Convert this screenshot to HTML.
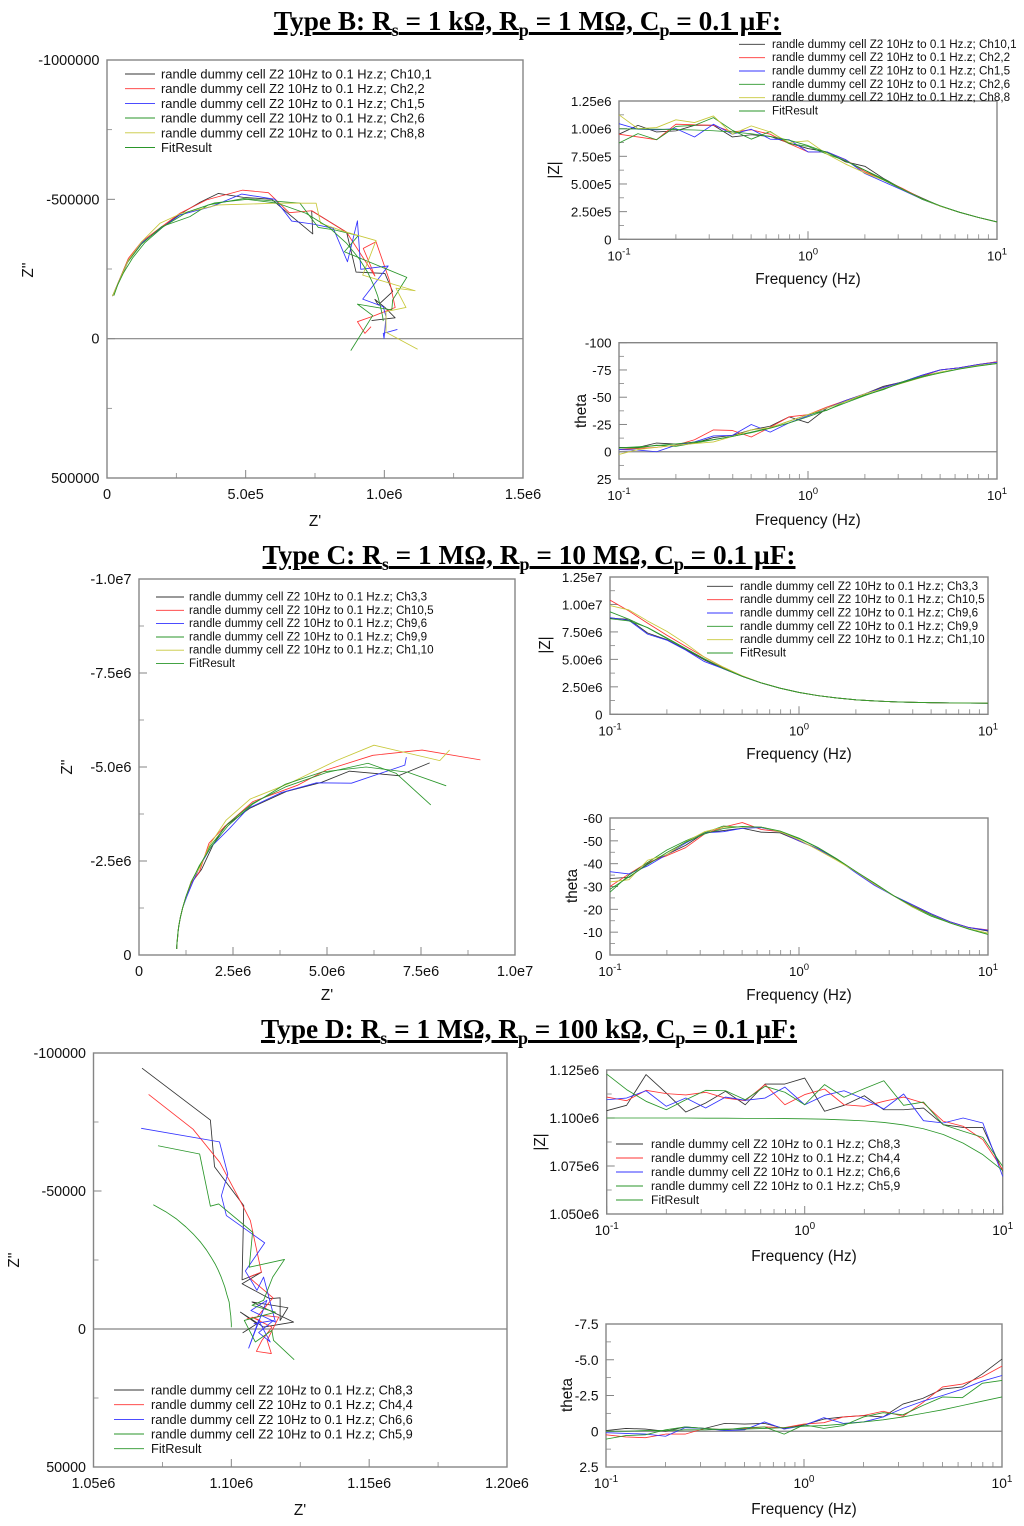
<!DOCTYPE html>
<html lang="en">
<head>
<meta charset="utf-8">
<title>Impedance spectra for Type B, C and D dummy cells</title>
<style>
html,body{margin:0;padding:0;background:#fff;}
body{width:1024px;height:1526px;position:relative;overflow:hidden;font-family:"Liberation Sans",sans-serif;}
.title{position:absolute;left:0;width:1024px;text-align:center;font-family:"Liberation Serif",serif;font-weight:bold;font-size:27.3px;line-height:32px;color:#000;text-decoration:underline;text-decoration-thickness:2.5px;white-space:nowrap;}
.title sub{font-size:18px;line-height:0;vertical-align:-6px;}
svg{position:absolute;left:0;top:0;}
svg text{font-family:"Liberation Sans",sans-serif;fill:#111;}
.ax{font-size:15.3px;text-anchor:middle;}
.lg{font-size:12.9px;dominant-baseline:central;}
.lm{font-size:11.65px;dominant-baseline:central;}
.ld{font-size:12.8px;dominant-baseline:central;}
.lr{font-size:12.2px;dominant-baseline:central;}
.leg line{stroke-width:.9;}
</style>
</head>
<body>
<div class="title" style="top:5px;text-indent:31px">Type B: R<sub>s</sub> = 1 kΩ, R<sub>p</sub> = 1 MΩ, C<sub>p</sub> = 0.1 µF:</div>
<div class="title" style="top:539px;text-indent:34px">Type C: R<sub>s</sub> = 1 MΩ, R<sub>p</sub> = 10 MΩ, C<sub>p</sub> = 0.1 µF:</div>
<div class="title" style="top:1013px;text-indent:34px">Type D: R<sub>s</sub> = 1 MΩ, R<sub>p</sub> = 100 kΩ, C<sub>p</sub> = 0.1 µF:</div>

<svg id="figure" width="1024" height="1526" viewBox="0 0 1024 1526">
  <g id="plots"></g>

  <g>
    <text class="ax" x="315" y="526">Z'</text>
    <text class="ax" transform="translate(33,270) rotate(-90)">Z''</text>
    <text class="ax" transform="translate(559,170) rotate(-90)">|Z|</text>
    <text class="ax" x="808" y="284">Frequency (Hz)</text>
    <text class="ax" transform="translate(586,411) rotate(-90)">theta</text>
    <text class="ax" x="808" y="525">Frequency (Hz)</text>

    <text class="ax" x="327" y="1000">Z'</text>
    <text class="ax" transform="translate(72,767) rotate(-90)">Z''</text>
    <text class="ax" transform="translate(550,645) rotate(-90)">|Z|</text>
    <text class="ax" x="799" y="759">Frequency (Hz)</text>
    <text class="ax" transform="translate(577,886) rotate(-90)">theta</text>
    <text class="ax" x="799" y="1000">Frequency (Hz)</text>

    <text class="ax" x="300" y="1515">Z'</text>
    <text class="ax" transform="translate(19,1260) rotate(-90)">Z''</text>
    <text class="ax" transform="translate(545,1142) rotate(-90)">|Z|</text>
    <text class="ax" x="804" y="1261">Frequency (Hz)</text>
    <text class="ax" transform="translate(572,1395) rotate(-90)">theta</text>
    <text class="ax" x="804" y="1514">Frequency (Hz)</text>
  </g>

  <g class="leg">
    <g><line x1="125" x2="155" y1="74" y2="74" stroke="#333"/><text class="lg" x="161" y="74">randle dummy cell Z2 10Hz to 0.1 Hz.z; Ch10,1</text></g>
    <g><line x1="125" x2="155" y1="88.7" y2="88.7" stroke="#f33"/><text class="lg" x="161" y="88.7">randle dummy cell Z2 10Hz to 0.1 Hz.z; Ch2,2</text></g>
    <g><line x1="125" x2="155" y1="103.4" y2="103.4" stroke="#33f"/><text class="lg" x="161" y="103.4">randle dummy cell Z2 10Hz to 0.1 Hz.z; Ch1,5</text></g>
    <g><line x1="125" x2="155" y1="118" y2="118" stroke="#2a962a"/><text class="lg" x="161" y="118">randle dummy cell Z2 10Hz to 0.1 Hz.z; Ch2,6</text></g>
    <g><line x1="125" x2="155" y1="132.8" y2="132.8" stroke="#c8c83a"/><text class="lg" x="161" y="132.8">randle dummy cell Z2 10Hz to 0.1 Hz.z; Ch8,8</text></g>
    <g><line x1="125" x2="155" y1="147.5" y2="147.5" stroke="#2a962a"/><text class="lg" x="161" y="147.5">FitResult</text></g>
  </g>
  <g class="leg">
    <g><line x1="739" x2="765" y1="44.3" y2="44.3" stroke="#333"/><text class="lm" x="772" y="44.3">randle dummy cell Z2 10Hz to 0.1 Hz.z; Ch10,1</text></g>
    <g><line x1="739" x2="765" y1="57.7" y2="57.7" stroke="#f33"/><text class="lm" x="772" y="57.7">randle dummy cell Z2 10Hz to 0.1 Hz.z; Ch2,2</text></g>
    <g><line x1="739" x2="765" y1="71" y2="71" stroke="#33f"/><text class="lm" x="772" y="71">randle dummy cell Z2 10Hz to 0.1 Hz.z; Ch1,5</text></g>
    <g><line x1="739" x2="765" y1="84.3" y2="84.3" stroke="#2a962a"/><text class="lm" x="772" y="84.3">randle dummy cell Z2 10Hz to 0.1 Hz.z; Ch2,6</text></g>
    <g><line x1="739" x2="765" y1="97.7" y2="97.7" stroke="#c8c83a"/><text class="lm" x="772" y="97.7">randle dummy cell Z2 10Hz to 0.1 Hz.z; Ch8,8</text></g>
    <g><line x1="739" x2="765" y1="111" y2="111" stroke="#2a962a"/><text class="lm" x="772" y="111">FitResult</text></g>
  </g>
  <g class="leg">
    <g><line x1="156" x2="184" y1="597" y2="597" stroke="#333"/><text class="lm" x="189" y="597">randle dummy cell Z2 10Hz to 0.1 Hz.z; Ch3,3</text></g>
    <g><line x1="156" x2="184" y1="610.3" y2="610.3" stroke="#f33"/><text class="lm" x="189" y="610.3">randle dummy cell Z2 10Hz to 0.1 Hz.z; Ch10,5</text></g>
    <g><line x1="156" x2="184" y1="623.6" y2="623.6" stroke="#33f"/><text class="lm" x="189" y="623.6">randle dummy cell Z2 10Hz to 0.1 Hz.z; Ch9,6</text></g>
    <g><line x1="156" x2="184" y1="637" y2="637" stroke="#2a962a"/><text class="lm" x="189" y="637">randle dummy cell Z2 10Hz to 0.1 Hz.z; Ch9,9</text></g>
    <g><line x1="156" x2="184" y1="650.2" y2="650.2" stroke="#c8c83a"/><text class="lm" x="189" y="650.2">randle dummy cell Z2 10Hz to 0.1 Hz.z; Ch1,10</text></g>
    <g><line x1="156" x2="184" y1="663.4" y2="663.4" stroke="#2a962a"/><text class="lm" x="189" y="663.4">FitResult</text></g>
  </g>
  <g class="leg">
    <g><line x1="707" x2="733" y1="586.3" y2="586.3" stroke="#333"/><text class="lm" x="740" y="586.3">randle dummy cell Z2 10Hz to 0.1 Hz.z; Ch3,3</text></g>
    <g><line x1="707" x2="733" y1="599.7" y2="599.7" stroke="#f33"/><text class="lm" x="740" y="599.7">randle dummy cell Z2 10Hz to 0.1 Hz.z; Ch10,5</text></g>
    <g><line x1="707" x2="733" y1="613" y2="613" stroke="#33f"/><text class="lm" x="740" y="613">randle dummy cell Z2 10Hz to 0.1 Hz.z; Ch9,6</text></g>
    <g><line x1="707" x2="733" y1="626.3" y2="626.3" stroke="#2a962a"/><text class="lm" x="740" y="626.3">randle dummy cell Z2 10Hz to 0.1 Hz.z; Ch9,9</text></g>
    <g><line x1="707" x2="733" y1="639.7" y2="639.7" stroke="#c8c83a"/><text class="lm" x="740" y="639.7">randle dummy cell Z2 10Hz to 0.1 Hz.z; Ch1,10</text></g>
    <g><line x1="707" x2="733" y1="653" y2="653" stroke="#2a962a"/><text class="lm" x="740" y="653">FitResult</text></g>
  </g>
  <g class="leg">
    <g><line x1="114" x2="144" y1="1390" y2="1390" stroke="#333"/><text class="ld" x="151" y="1390">randle dummy cell Z2 10Hz to 0.1 Hz.z; Ch8,3</text></g>
    <g><line x1="114" x2="144" y1="1404.7" y2="1404.7" stroke="#f33"/><text class="ld" x="151" y="1404.7">randle dummy cell Z2 10Hz to 0.1 Hz.z; Ch4,4</text></g>
    <g><line x1="114" x2="144" y1="1419.4" y2="1419.4" stroke="#33f"/><text class="ld" x="151" y="1419.4">randle dummy cell Z2 10Hz to 0.1 Hz.z; Ch6,6</text></g>
    <g><line x1="114" x2="144" y1="1434" y2="1434" stroke="#2a962a"/><text class="ld" x="151" y="1434">randle dummy cell Z2 10Hz to 0.1 Hz.z; Ch5,9</text></g>
    <g><line x1="114" x2="144" y1="1448.7" y2="1448.7" stroke="#2a962a"/><text class="ld" x="151" y="1448.7">FitResult</text></g>
  </g>
  <g class="leg">
    <g><line x1="616" x2="643" y1="1144" y2="1144" stroke="#333"/><text class="lr" x="651" y="1144">randle dummy cell Z2 10Hz to 0.1 Hz.z; Ch8,3</text></g>
    <g><line x1="616" x2="643" y1="1158" y2="1158" stroke="#f33"/><text class="lr" x="651" y="1158">randle dummy cell Z2 10Hz to 0.1 Hz.z; Ch4,4</text></g>
    <g><line x1="616" x2="643" y1="1172" y2="1172" stroke="#33f"/><text class="lr" x="651" y="1172">randle dummy cell Z2 10Hz to 0.1 Hz.z; Ch6,6</text></g>
    <g><line x1="616" x2="643" y1="1186" y2="1186" stroke="#2a962a"/><text class="lr" x="651" y="1186">randle dummy cell Z2 10Hz to 0.1 Hz.z; Ch5,9</text></g>
    <g><line x1="616" x2="643" y1="1200" y2="1200" stroke="#2a962a"/><text class="lr" x="651" y="1200">FitResult</text></g>
  </g>
</svg>

<script>
// Frequency grid (Hz) shared by all Bode plots
const frequencies = [0.1,0.126,0.158,0.2,0.251,0.316,0.398,0.501,0.631,0.794,1,1.26,1.58,2,2.51,3.16,3.98,5.01,6.31,7.94,10];
const logDecades = [0.1,1,10];
const logDecadeExponents = ["-1","0","1"];
const logMinors = [0.2,0.3,0.4,0.5,0.6,0.7,0.8,0.9,2,3,4,5,6,7,8,9];

// ---- Type B Nyquist (kOhm) ----
const bNyqRe1 = [20,77,125,189,263,333,401,492,594,650,742,738,864,898,1002,1030,978,966,1002,1039,954];
const bNyqIm1 = [-153,-280,-344,-392,-447,-488,-521,-507,-500,-452,-376,-459,-382,-239,-234,-169,-121,-141,-112,-75,-65];
const bNyqRe2 = [20,77,125,189,263,359,489,582,657,738,864,966,924,970,1018,1039,960,903,930,952];
const bNyqIm2 = [-153,-288,-348,-396,-450,-498,-533,-524,-452,-459,-382,-225,-324,-348,-210,-112,-81,-61,-19,-43];
const bNyqRe3 = [20,77,125,189,263,377,486,606,666,744,816,867,903,915,1014,922,996,1006,999,996,1047];
const bNyqIm3 = [-153,-282,-344,-392,-444,-474,-519,-500,-422,-411,-396,-276,-423,-249,-261,-142,-115,-79,-1,-19,-33];
const bNyqRe4 = [20,71,125,197,299,365,492,696,762,822,906,856,1081,1030,1027,903,958,879];
const bNyqIm4 = [-153,-270,-340,-402,-438,-480,-503,-486,-399,-390,-370,-312,-220,-139,-103,-124,-83,43];
const bNyqRe5 = [20,77,125,191,269,401,480,606,754,770,864,970,922,1111,1042,1078,1006,1006,1120];
const bNyqIm5 = [-153,-282,-348,-414,-450,-480,-482,-486,-486,-414,-382,-352,-228,-172,-181,-112,-97,-23,38];
const bNyqReFit = [25,39,60,92,137,202,289,388,504,615,717,802,864,910,941,962,976,984,990,994,996];
const bNyqImFit = [-155,-194,-237,-289,-345,-401,-454,-487,-500,-486,-450,-398,-342,-286,-236,-191,-153,-124,-98,-79,-63];
const bNyqXTicks = [0,500,1000,1500];
const bNyqXLabels = ["0","5.0e5","1.0e6","1.5e6"];
const bNyqXMinors = [250,750,1250];
const bNyqYTicks = [-1000,-500,0,500];
const bNyqYLabels = ["-1000000","-500000","0","500000"];
const bNyqYMinors = [-750,-250,250];

// ---- Type B |Z| (MOhm) ----
const bMod1 = [0.95,1.03,0.97,0.98,1.03,1.03,0.925,0.945,0.93,0.87,0.82,0.79,0.70,0.66,0.55,0.455,0.375,0.30,0.245,0.198,0.157];
const bMod2 = [0.95,0.925,0.90,1.04,1.035,1.03,0.97,0.99,0.95,0.865,0.79,0.79,0.72,0.61,0.54,0.46,0.37,0.30,0.245,0.198,0.157];
const bMod3 = [1.045,0.995,0.99,1.0,0.925,1.04,0.95,0.995,0.905,0.90,0.79,0.79,0.72,0.595,0.52,0.445,0.365,0.30,0.245,0.198,0.157];
const bMod4 = [0.87,0.955,0.90,1.02,1.03,1.10,0.985,0.905,0.975,0.865,0.84,0.77,0.71,0.625,0.545,0.455,0.365,0.30,0.245,0.198,0.157];
const bMod5 = [1.125,1.0,1.01,1.08,1.055,1.115,0.95,1.025,0.97,0.875,0.89,0.77,0.68,0.60,0.535,0.45,0.37,0.30,0.245,0.198,0.157];
const bModFit = [0.998,0.997,0.995,0.992,0.988,0.981,0.970,0.954,0.930,0.896,0.847,0.784,0.709,0.623,0.537,0.450,0.370,0.303,0.245,0.198,0.157];
const bModYTicks = [0,0.25,0.5,0.75,1,1.25];
const bModYLabels = ["0","2.50e5","5.00e5","7.50e5","1.00e6","1.25e6"];
const bModYMinors = [0.125,0.375,0.625,0.875,1.125];

// ---- Type B theta (deg) ----
const bTh1 = [-4,-4,-8,-7,-8,-13,-15,-20,-23.5,-32,-26.5,-40,-47,-53,-60,-64,-70,-75,-77,-80,-82.5];
const bTh2 = [-2,-3,-4,-6,-11,-20,-19.5,-13.5,-22.5,-32,-34,-41,-47,-53,-59,-64,-69,-75,-77,-80,-82.5];
const bTh3 = [-2,-1.5,0,-6,-9,-14.5,-15,-25,-18,-26.5,-33,-40,-47,-53,-59,-64,-70,-75,-77,-80,-82];
const bTh4 = [-3.5,-3.5,-6,-5,-8,-11,-14,-18,-22,-28,-34,-38,-46,-52,-57,-64,-69,-73,-76,-79,-81];
const bTh5 = [2.5,-2,-4,-6,-7.5,-9,-14,-20,-22,-28,-34,-40,-46,-53,-58,-63,-68,-73,-76,-79,-81];
const bThFit = [-3.6,-4.5,-5.7,-7.2,-8.9,-11.2,-14.1,-17.4,-21.6,-26.4,-32.1,-38.3,-44.8,-51.5,-57.5,-63.3,-68.3,-72.3,-75.8,-78.6,-80.9];
const bThYTicks = [-100,-75,-50,-25,0,25];
const bThYLabels = ["-100","-75","-50","-25","0","25"];
const bThYMinors = [-87.5,-62.5,-37.5,-12.5,12.5];

// ---- Type C Nyquist (MOhm) ----
const cNyqRe1 = [7.73,6.91,5.60,4.85,3.92,2.94,2.28,1.97,1.66,1.39,1.25,1.16,1.10,1.06,1.04,1.03,1.02,1.01,1.006,1.004,1.003];
const cNyqIm1 = [-5.11,-4.77,-4.89,-4.59,-4.35,-3.90,-3.42,-2.93,-2.27,-1.91,-1.55,-1.25,-1.00,-0.79,-0.63,-0.50,-0.40,-0.32,-0.25,-0.20,-0.16];
const cNyqRe2 = [9.08,7.53,6.22,4.98,4.23,3.03,2.28,1.86,1.61,1.39,1.25,1.16,1.10,1.06,1.04,1.03,1.02,1.01,1.006,1.004,1.003];
const cNyqIm2 = [-5.19,-5.45,-5.31,-4.92,-4.52,-4.08,-3.42,-2.97,-2.22,-1.91,-1.55,-1.25,-1.00,-0.79,-0.63,-0.50,-0.40,-0.32,-0.25,-0.20,-0.16];
const cNyqRe3 = [7.11,7.07,5.65,4.72,3.79,2.90,2.41,1.92,1.66,1.44,1.27,1.16,1.10,1.06,1.04,1.03,1.02,1.01,1.006,1.004,1.003];
const cNyqIm3 = [-5.26,-5.05,-4.57,-4.58,-4.32,-3.90,-3.37,-2.88,-2.44,-1.96,-1.55,-1.25,-1.00,-0.79,-0.63,-0.50,-0.40,-0.32,-0.25,-0.20,-0.16];
const cNyqRe4 = [7.76,6.84,6.09,4.98,3.92,3.03,2.37,1.88,1.61,1.39,1.25,1.16,1.10,1.06,1.04,1.03,1.02,1.01,1.006,1.004,1.003];
const cNyqIm4 = [-3.99,-4.83,-5.10,-4.85,-4.48,-4.04,-3.50,-2.88,-2.35,-1.96,-1.55,-1.25,-1.00,-0.79,-0.63,-0.50,-0.40,-0.32,-0.25,-0.20,-0.16];
const cNyqRe5 = [8.26,8.0,6.25,5.25,4.01,2.96,2.32,1.88,1.63,1.39,1.25,1.16,1.10,1.06,1.04,1.03,1.02,1.01,1.006,1.004,1.003];
const cNyqIm5 = [-5.45,-5.17,-5.58,-5.17,-4.57,-4.15,-3.59,-2.93,-2.35,-1.96,-1.55,-1.25,-1.00,-0.79,-0.63,-0.50,-0.40,-0.32,-0.25,-0.20,-0.16];
const cNyqReFit = [8.17,7.15,6.04,4.88,3.89,3.02,2.37,1.92,1.60,1.391,1.247,1.158,1.100,1.063,1.040,1.025,1.016,1.010,1.006,1.004,1.0025];
const cNyqImFit = [-4.50,-4.86,-5.00,-4.87,-4.54,-4.01,-3.44,-2.88,-2.37,-1.937,-1.552,-1.245,-0.998,-0.79,-0.634,-0.501,-0.398,-0.318,-0.252,-0.2016,-0.159];
const cNyqXTicks = [0,2.5,5,7.5,10];
const cNyqXLabels = ["0","2.5e6","5.0e6","7.5e6","1.0e7"];
const cNyqXMinors = [1.25,3.75,6.25,8.75];
const cNyqYTicks = [-10,-7.5,-5,-2.5,0];
const cNyqYLabels = ["-1.0e7","-7.5e6","-5.0e6","-2.5e6","0"];
const cNyqYMinors = [-8.75,-6.25,-3.75,-1.25];

// ---- Type C |Z| (MOhm) ----
const cMod1 = [8.75,8.65,7.4,6.8,5.9,4.95,4.15,3.45,2.85,2.38,1.99,1.70,1.49,1.32,1.22,1.14,1.09,1.06,1.04,1.02,1.015];
const cMod2 = [10.4,9.4,8.3,7.2,6.2,5.2,4.25,3.5,2.86,2.38,1.99,1.70,1.49,1.32,1.22,1.14,1.09,1.06,1.04,1.02,1.015];
const cMod3 = [8.8,8.55,7.3,6.75,5.85,4.8,4.15,3.45,2.85,2.38,1.99,1.70,1.49,1.32,1.22,1.14,1.09,1.06,1.04,1.02,1.015];
const cMod4 = [8.7,8.5,7.9,6.95,6.0,5.05,4.18,3.45,2.86,2.38,1.99,1.70,1.49,1.32,1.22,1.14,1.09,1.06,1.04,1.02,1.015];
const cMod5 = [9.9,9.5,8.5,7.55,6.45,5.2,4.3,3.5,2.86,2.38,1.99,1.70,1.49,1.32,1.22,1.14,1.09,1.06,1.04,1.02,1.015];
const cModFit = [9.33,8.65,7.88,6.90,5.98,5.03,4.18,3.46,2.86,2.38,1.99,1.70,1.49,1.32,1.22,1.14,1.09,1.06,1.04,1.02,1.015];
const cModYTicks = [0,2.5,5,7.5,10,12.5];
const cModYLabels = ["0","2.50e6","5.00e6","7.50e6","1.00e7","1.25e7"];
const cModYMinors = [1.25,3.75,6.25,8.75,11.25];

// ---- Type C theta (deg) ----
const cTh1 = [-33.5,-34,-40,-44,-48,-53.5,-54.5,-55.5,-53.8,-53.5,-50,-46.5,-42,-36.5,-31,-26,-22,-18,-14.5,-12,-10.5];
const cTh2 = [-30,-35.5,-40.5,-43.5,-47,-53,-56,-58,-55,-54,-50,-46.5,-42,-36.5,-31,-26,-21.5,-18,-14.5,-12,-11];
const cTh3 = [-36.5,-35.5,-39,-44,-49,-53.5,-54,-55.5,-55.8,-54,-50,-46.5,-42,-36,-30.5,-26,-22,-18,-14.5,-12,-10.8];
const cTh4 = [-27.5,-35,-40.5,-46,-50,-53.5,-56.5,-56,-56,-54,-51,-47,-42,-36.5,-31.5,-26,-21,-17,-14,-11.5,-9.5];
const cTh5 = [-32,-33,-41.5,-44,-49.5,-54,-56,-56,-56,-54,-50.5,-46,-41.5,-36.5,-31,-26,-21,-17.5,-14,-11.5,-9.5];
const cThFit = [-28.8,-34.2,-39.6,-44.9,-49.4,-53,-55.4,-56.3,-56,-54.3,-51.2,-47.1,-42.2,-36.6,-31.4,-26,-21.4,-17.5,-14,-11.3,-9];
const cThYTicks = [-60,-50,-40,-30,-20,-10,0];
const cThYLabels = ["-60","-50","-40","-30","-20","-10","0"];
const cThYMinors = [-55,-45,-35,-25,-15,-5];

// ---- Type D Nyquist (kOhm) ----
const dNyqRe1 = [1067.6,1092.4,1093.9,1104.5,1103.9,1111,1103.9,1113.9,1117.7,1117.7,1120.5,1107.5,1122.6,1111.7,1103.3,1109.3,1104.1];
const dNyqIm1 = [-94.5,-75.7,-58.8,-44.7,-17.8,-20.6,-16.4,-11,-11.3,-3.1,-7.7,-9.8,-2.5,-0.7,-6.1,-1.9,1.4];
const dNyqRe2 = [1070,1086.1,1095.8,1104.5,1106.9,1110.9,1106.3,1115.1,1109.3,1105.7,1111.7,1117.2,1113,1114.5,1109.1,1111.1,1114.7,1107.5,1110.5];
const dNyqIm2 = [-85,-72.4,-60.4,-44,-39.3,-20.6,-18.8,-11.3,-4.3,-3.7,-4.9,-4.3,4.1,8.9,8.1,4.1,-0.7,-4.3,-3.1];
const dNyqRe3 = [1067.3,1095.7,1098.7,1096.4,1098.2,1112.1,1105.1,1109.3,1111.7,1116,1107.1,1112.9,1106.3,1109.9,1114.1,1109.9,1115.3,1108.1];
const dNyqIm3 = [-72.7,-67.8,-56.1,-48.3,-41.1,-31.2,-21,-14,-18.8,-2.5,-6.7,-10.4,6.9,-3.1,4.7,1.3,-3.1,-1.9];
const dNyqRe4 = [1073.4,1088.5,1092.4,1095.4,1107.7,1106.5,1119.3,1115,1111.7,1107.5,1116,1104.7,1108.7,1114.7,1115.3,1122.8];
const dNyqIm4 = [-66.4,-63.4,-44.5,-45.3,-35.1,-22.4,-25.2,-18.8,-10.4,-8.6,-6.1,-3.1,4.7,0.5,4.1,11.1];
const dNyqReFit = [1100,1100,1099.9,1099.8,1099.6,1099.2,1098.4,1097.6,1096.2,1095.2,1094.1,1092.6,1091,1088.9,1086.4,1083.5,1080.2,1076.2,1071.7];
const dNyqImFit = [-0.63,-1.97,-3.1,-4.8,-6.2,-9.8,-12.4,-15.3,-19.1,-21.4,-23.6,-26.1,-28.6,-31.4,-34.2,-37,-39.8,-42.5,-45];
const dNyqXTicks = [1050,1100,1150,1200];
const dNyqXLabels = ["1.05e6","1.10e6","1.15e6","1.20e6"];
const dNyqXMinors = [1075,1125,1175];
const dNyqYTicks = [-100,-50,0,50];
const dNyqYLabels = ["-100000","-50000","0","50000"];
const dNyqYMinors = [-75,-25,25];

// ---- Type D |Z| (kOhm) ----
const dMod1 = [1103.8,1106.6,1122.6,1113,1103.1,1107.8,1113.9,1106.9,1117.7,1117.7,1120.8,1103.5,1106.6,1111.6,1104.3,1104.3,1105.2,1096.5,1095.1,1095.1,1072.2];
const dMod2 = [1110.9,1109,1114.4,1112.7,1112,1113.4,1110.4,1109,1117.4,1106.9,1112.2,1115.1,1106.9,1106.1,1108.7,1110.9,1107.8,1098.3,1095.7,1088.7,1073.1];
const dMod3 = [1109.5,1110.4,1114.2,1106.1,1110.4,1105.2,1110.9,1109.2,1110.4,1116.1,1106.9,1111.8,1114.2,1109.9,1104.7,1112.5,1098.6,1097.4,1100,1097.4,1069.6];
const dMod4 = [1122.9,1114.8,1108.7,1104.3,1109.5,1114.4,1114.2,1109.5,1116.5,1113.4,1106.9,1117.4,1110.8,1115.3,1119.4,1106.6,1108.3,1096.5,1093.1,1089.9,1074.8];
const dModFit = [1100,1100,1100,1100,1100,1099.9,1099.9,1099.8,1099.8,1099.7,1099.6,1099.4,1099,1098.5,1097.7,1096.4,1094.4,1091.4,1086.9,1080.9,1072.7];
const dModYTicks = [1050,1075,1100,1125];
const dModYLabels = ["1.050e6","1.075e6","1.100e6","1.125e6"];
const dModYMinors = [1062.5,1087.5,1112.5];

// ---- Type D theta (deg) ----
const dTh1 = [-0.05,-0.2,-0.15,0,-0.3,-0.2,-0.55,-0.5,-0.55,-0.2,-0.45,-0.85,-1,-1.1,-1,-1.9,-2.3,-2.95,-3.1,-4,-5.05];
const dTh2 = [0.25,0.4,0.45,0.2,0.2,-0.2,-0.1,-0.2,-0.3,-0.25,-0.5,-0.6,-1,-1.1,-1.4,-1.05,-2,-3.1,-3.3,-3.8,-4.55];
const dTh3 = [0.1,0.15,0.2,0.35,-0.25,-0.2,-0.05,-0.1,-0.65,-0.15,-0.4,-0.95,-0.55,-0.65,-1,-1.6,-2.1,-2.5,-2.95,-3.5,-3.9];
const dTh4 = [0.55,0.3,0.25,-0.1,-0.3,-0.2,-0.1,-0.25,-0.3,0.2,-0.45,-0.2,-0.4,-1,-1.3,-1.15,-1.8,-2.4,-2.35,-3.35,-3.55];
const dThFit = [0,0,-0.05,-0.05,-0.1,-0.1,-0.15,-0.15,-0.2,-0.25,-0.35,-0.4,-0.5,-0.65,-0.8,-1,-1.25,-1.5,-1.8,-2.1,-2.4];
const dThYTicks = [-7.5,-5,-2.5,0,2.5];
const dThYLabels = ["-7.5","-5.0","-2.5","0","2.5"];
const dThYMinors = [-6.25,-3.75,-1.25,1.25];

const NS = 'http://www.w3.org/2000/svg';
const AXIS = '#858585';
const BLACK = '#333', RED = '#f33', BLUE = '#33f', GREEN = '#2a962a', YELLOW = '#c8c83a', FITC = '#2a962a';
const root = document.getElementById('plots');

function make(tag, parent, attrs) {
  const el = document.createElementNS(NS, tag);
  for (const k in attrs) el.setAttribute(k, attrs[k]);
  parent.appendChild(el);
  return el;
}
function linScale(d0, d1, r0, r1) { return v => r0 + (v - d0) / (d1 - d0) * (r1 - r0); }
function logScale(d0, d1, r0, r1) {
  const a = Math.log10(d0), b = Math.log10(d1);
  return v => r0 + (Math.log10(v) - a) / (b - a) * (r1 - r0);
}

function drawChart(name, box, fontSize, xa, ya, series, zero) {
  const g = make('g', root, {});
  
  
  const left = box[0], top = box[1], right = box[2], bottom = box[3];
  const sx = xa.log ? logScale(xa.domain[0], xa.domain[1], left, right) : linScale(xa.domain[0], xa.domain[1], left, right);
  const sy = linScale(ya.domain[0], ya.domain[1], top, bottom);

  const frame = make('rect', g, {x:left, y:top, width:right-left, height:bottom-top, fill:'none', stroke:AXIS, 'stroke-width':1.4});
  
  

  xa.ticks.forEach(function (v, i) {
    const x = sx(v);
    const t = make('line', g, {x1:x, x2:x, y1:bottom, y2:bottom-8, stroke:AXIS, 'stroke-width':1});
    
    
    const lab = make('text', g, {'font-size':fontSize, x:x, y:bottom+21, 'text-anchor':'middle'});
    
    
    if (xa.log) {
      const base = make('tspan', lab, {});
      base.textContent = '10';
      const exp = make('tspan', lab, {dy:-6, 'font-size':fontSize * 0.72});
      exp.textContent = xa.labels[i];
    } else {
      lab.textContent = xa.labels[i];
    }
  });
  xa.minors.forEach(function (v) {
    const x = sx(v);
    const t = make('line', g, {x1:x, x2:x, y1:bottom, y2:bottom-5, stroke:AXIS, 'stroke-width':.8});
    
    
  });
  ya.ticks.forEach(function (v, i) {
    const y = sy(v);
    const t = make('line', g, {x1:left, x2:left+8, y1:y, y2:y, stroke:AXIS, 'stroke-width':1});
    
    
    const lab = make('text', g, {'font-size':fontSize, x:left-7.5, y:y+5, 'text-anchor':'end'});
    
    
    lab.textContent = ya.labels[i];
  });
  ya.minors.forEach(function (v) {
    const y = sy(v);
    const t = make('line', g, {x1:left, x2:left+5, y1:y, y2:y, stroke:AXIS, 'stroke-width':.8});
    
    
  });
  if (zero) {
    const z = make('line', g, {x1:left, x2:right, y1:sy(0), y2:sy(0), stroke:AXIS, 'stroke-width':1.2});
    
    
  }
  series.forEach(function (s) {
    let d = '';
    for (let i = 0; i < s.y.length; i++) {
      d += (i ? 'L' : 'M') + sx(s.x[i]).toFixed(2) + ' ' + sy(s.y[i]).toFixed(2);
    }
    const p = make('path', g, {d:d, fill:'none', stroke:s.color, 'stroke-width':.85, 'stroke-linejoin':'round'});
    
    
  });
}

function logAxis() {
  return {log:true, domain:[0.1,10], ticks:logDecades, labels:logDecadeExponents, minors:logMinors};
}

// Type B
drawChart('type-b-nyquist-plot', [107,60,523,478], 14.5,
  {domain:[0,1500], ticks:bNyqXTicks, labels:bNyqXLabels, minors:bNyqXMinors},
  {domain:[-1000,500], ticks:bNyqYTicks, labels:bNyqYLabels, minors:bNyqYMinors},
  [{name:'series-ch10-1',color:BLACK,x:bNyqRe1,y:bNyqIm1},{name:'series-ch2-2',color:RED,x:bNyqRe2,y:bNyqIm2},{name:'series-ch1-5',color:BLUE,x:bNyqRe3,y:bNyqIm3},{name:'series-ch2-6',color:GREEN,x:bNyqRe4,y:bNyqIm4},{name:'series-ch8-8',color:YELLOW,x:bNyqRe5,y:bNyqIm5},{name:'series-fit',color:FITC,x:bNyqReFit,y:bNyqImFit}], true);
drawChart('type-b-modulus-plot', [619,101,997,239.3], 13.3, logAxis(),
  {domain:[1.25,0], ticks:bModYTicks, labels:bModYLabels, minors:bModYMinors},
  [{name:'series-ch10-1',color:BLACK,x:frequencies,y:bMod1},{name:'series-ch2-2',color:RED,x:frequencies,y:bMod2},{name:'series-ch1-5',color:BLUE,x:frequencies,y:bMod3},{name:'series-ch2-6',color:GREEN,x:frequencies,y:bMod4},{name:'series-ch8-8',color:YELLOW,x:frequencies,y:bMod5},{name:'series-fit',color:FITC,x:frequencies,y:bModFit}], false);
drawChart('type-b-theta-plot', [619,342.7,997,479], 13.3, logAxis(),
  {domain:[-100,25], ticks:bThYTicks, labels:bThYLabels, minors:bThYMinors},
  [{name:'series-ch10-1',color:BLACK,x:frequencies,y:bTh1},{name:'series-ch2-2',color:RED,x:frequencies,y:bTh2},{name:'series-ch1-5',color:BLUE,x:frequencies,y:bTh3},{name:'series-ch2-6',color:GREEN,x:frequencies,y:bTh4},{name:'series-ch8-8',color:YELLOW,x:frequencies,y:bTh5},{name:'series-fit',color:FITC,x:frequencies,y:bThFit}], true);

// Type C
drawChart('type-c-nyquist-plot', [139,579,515,955], 14.5,
  {domain:[0,10], ticks:cNyqXTicks, labels:cNyqXLabels, minors:cNyqXMinors},
  {domain:[-10,0], ticks:cNyqYTicks, labels:cNyqYLabels, minors:cNyqYMinors},
  [{name:'series-ch3-3',color:BLACK,x:cNyqRe1,y:cNyqIm1},{name:'series-ch10-5',color:RED,x:cNyqRe2,y:cNyqIm2},{name:'series-ch9-6',color:BLUE,x:cNyqRe3,y:cNyqIm3},{name:'series-ch9-9',color:GREEN,x:cNyqRe4,y:cNyqIm4},{name:'series-ch1-10',color:YELLOW,x:cNyqRe5,y:cNyqIm5},{name:'series-fit',color:FITC,x:cNyqReFit,y:cNyqImFit}], false);
drawChart('type-c-modulus-plot', [610,577,988,714.3], 13.3, logAxis(),
  {domain:[12.5,0], ticks:cModYTicks, labels:cModYLabels, minors:cModYMinors},
  [{name:'series-ch3-3',color:BLACK,x:frequencies,y:cMod1},{name:'series-ch10-5',color:RED,x:frequencies,y:cMod2},{name:'series-ch9-6',color:BLUE,x:frequencies,y:cMod3},{name:'series-ch9-9',color:GREEN,x:frequencies,y:cMod4},{name:'series-ch1-10',color:YELLOW,x:frequencies,y:cMod5},{name:'series-fit',color:FITC,x:frequencies,y:cModFit}], false);
drawChart('type-c-theta-plot', [610,818,988,955], 13.3, logAxis(),
  {domain:[-60,0], ticks:cThYTicks, labels:cThYLabels, minors:cThYMinors},
  [{name:'series-ch3-3',color:BLACK,x:frequencies,y:cTh1},{name:'series-ch10-5',color:RED,x:frequencies,y:cTh2},{name:'series-ch9-6',color:BLUE,x:frequencies,y:cTh3},{name:'series-ch9-9',color:GREEN,x:frequencies,y:cTh4},{name:'series-ch1-10',color:YELLOW,x:frequencies,y:cTh5},{name:'series-fit',color:FITC,x:frequencies,y:cThFit}], false);

// Type D
drawChart('type-d-nyquist-plot', [93.5,1053,507,1467], 14.3,
  {domain:[1050,1200], ticks:dNyqXTicks, labels:dNyqXLabels, minors:dNyqXMinors},
  {domain:[-100,50], ticks:dNyqYTicks, labels:dNyqYLabels, minors:dNyqYMinors},
  [{name:'series-ch8-3',color:BLACK,x:dNyqRe1,y:dNyqIm1},{name:'series-ch4-4',color:RED,x:dNyqRe2,y:dNyqIm2},{name:'series-ch6-6',color:BLUE,x:dNyqRe3,y:dNyqIm3},{name:'series-ch5-9',color:GREEN,x:dNyqRe4,y:dNyqIm4},{name:'series-fit',color:FITC,x:dNyqReFit,y:dNyqImFit}], true);
drawChart('type-d-modulus-plot', [606.7,1070,1002.7,1214], 13.8, logAxis(),
  {domain:[1125,1050], ticks:dModYTicks, labels:dModYLabels, minors:dModYMinors},
  [{name:'series-ch8-3',color:BLACK,x:frequencies,y:dMod1},{name:'series-ch4-4',color:RED,x:frequencies,y:dMod2},{name:'series-ch6-6',color:BLUE,x:frequencies,y:dMod3},{name:'series-ch5-9',color:GREEN,x:frequencies,y:dMod4},{name:'series-fit',color:FITC,x:frequencies,y:dModFit}], false);
drawChart('type-d-theta-plot', [606,1324,1002,1467], 13.8, logAxis(),
  {domain:[-7.5,2.5], ticks:dThYTicks, labels:dThYLabels, minors:dThYMinors},
  [{name:'series-ch8-3',color:BLACK,x:frequencies,y:dTh1},{name:'series-ch4-4',color:RED,x:frequencies,y:dTh2},{name:'series-ch6-6',color:BLUE,x:frequencies,y:dTh3},{name:'series-ch5-9',color:GREEN,x:frequencies,y:dTh4},{name:'series-fit',color:FITC,x:frequencies,y:dThFit}], true);
</script>
</body>
</html>
